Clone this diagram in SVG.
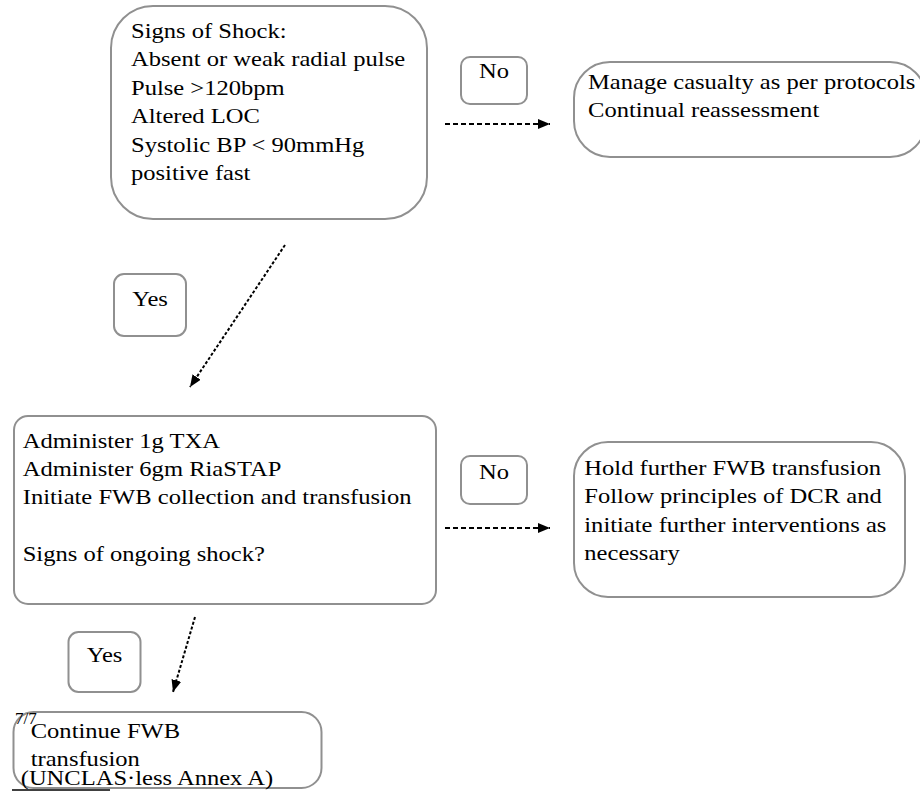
<svg xmlns="http://www.w3.org/2000/svg" width="920" height="791" viewBox="0 0 920 791">
  <defs>
    <marker id="arr" viewBox="0 0 12 10" refX="12" refY="5" markerWidth="12" markerHeight="10" markerUnits="userSpaceOnUse" orient="auto">
      <path d="M0,0 L12,5 L0,10 Z" fill="#000"/>
    </marker>
    <style>
      .box { fill: #fff; stroke: #909090; stroke-width: 2; }
      .t { font-family: "Liberation Serif", "Times New Roman", serif; font-size: 21px; fill: #000; }
      .dash { fill: none; stroke: #000; stroke-width: 2; stroke-dasharray: 5 3; }
      .dot { fill: none; stroke: #000; stroke-width: 2; stroke-dasharray: 3 2; }
    </style>
  </defs>
  <rect width="920" height="791" fill="#fff"/>

  <g id="connectors">
    <line class="dash" x1="445" y1="124" x2="550" y2="124" marker-end="url(#arr)"/>
    <line class="dot" x1="285" y1="245" x2="190" y2="387" marker-end="url(#arr)"/>
    <line class="dash" x1="445" y1="528" x2="550" y2="528" marker-end="url(#arr)"/>
    <line class="dot" x1="195" y1="617" x2="173" y2="692" marker-end="url(#arr)"/>
  </g>

  <g id="shock">
    <rect class="box" x="111" y="6" width="316" height="213" rx="42" ry="42"/>
    <text class="t" transform="translate(131 0) scale(1.17 1)">
      <tspan x="0" y="38">Signs of Shock:</tspan>
      <tspan x="0" y="66.4">Absent or weak radial pulse</tspan>
      <tspan x="0" y="94.8">Pulse &gt;120bpm</tspan>
      <tspan x="0" y="123.2">Altered LOC</tspan>
      <tspan x="0" y="151.6">Systolic BP &lt; 90mmHg</tspan>
      <tspan x="0" y="180">positive fast</tspan>
    </text>
  </g>

  <g id="no1">
    <rect class="box" x="461" y="57" width="66" height="47" rx="9" ry="9"/>
    <text class="t" text-anchor="middle" transform="translate(494 0) scale(1.17 1)"><tspan x="0" y="78">No</tspan></text>
  </g>

  <g id="manage">
    <rect class="box" x="574" y="62" width="352" height="95" rx="36" ry="36"/>
    <text class="t" transform="translate(588 0) scale(1.17 1)">
      <tspan x="0" y="89">Manage casualty as per protocols</tspan>
      <tspan x="0" y="117">Continual reassessment</tspan>
    </text>
  </g>

  <g id="yes1">
    <rect class="box" x="114" y="274" width="72" height="62" rx="10" ry="10"/>
    <text class="t" text-anchor="middle" transform="translate(150 0) scale(1.17 1)"><tspan x="0" y="306">Yes</tspan></text>
  </g>

  <g id="administer">
    <rect class="box" x="14" y="416" width="422" height="188" rx="14" ry="14"/>
    <text class="t" transform="translate(22.7 0) scale(1.17 1)">
      <tspan x="0" y="447.6">Administer 1g TXA</tspan>
      <tspan x="0" y="476">Administer 6gm RiaSTAP</tspan>
      <tspan x="0" y="504.4">Initiate FWB collection and transfusion</tspan>
      <tspan x="0" y="561.2">Signs of ongoing shock?</tspan>
    </text>
  </g>

  <g id="no2">
    <rect class="box" x="461" y="456" width="66" height="48" rx="9" ry="9"/>
    <text class="t" text-anchor="middle" transform="translate(494 0) scale(1.17 1)"><tspan x="0" y="479.5">No</tspan></text>
  </g>

  <g id="hold">
    <rect class="box" x="574" y="442" width="331" height="155" rx="34" ry="34"/>
    <text class="t" transform="translate(584.3 0) scale(1.17 1)">
      <tspan x="0" y="475">Hold further FWB transfusion</tspan>
      <tspan x="0" y="503.4">Follow principles of DCR and</tspan>
      <tspan x="0" y="531.8">initiate further interventions as</tspan>
      <tspan x="0" y="560.2">necessary</tspan>
    </text>
  </g>

  <g id="yes2">
    <rect class="box" x="68.5" y="632" width="72" height="60" rx="10" ry="10"/>
    <text class="t" text-anchor="middle" transform="translate(104.5 0) scale(1.17 1)"><tspan x="0" y="662">Yes</tspan></text>
  </g>

  <g id="continue">
    <rect class="box" x="13.5" y="712" width="308" height="76" rx="20" ry="20"/>
    <text class="t" transform="translate(30.7 0) scale(1.17 1)">
      <tspan x="0" y="738.3">Continue FWB</tspan>
      <tspan x="0" y="766.5">transfusion</tspan>
    </text>
  </g>

  <g id="footer">
    <text x="15" y="724" font-family="Liberation Serif, serif" font-size="17" fill="#000">7/7</text>
    <text class="t" transform="translate(20.7 0) scale(1.17 1)"><tspan x="0" y="785">(UNCLAS·less Annex A)</tspan></text>
    <line x1="12" y1="790" x2="110" y2="790" stroke="#000" stroke-width="1.5"/>
  </g>
</svg>
